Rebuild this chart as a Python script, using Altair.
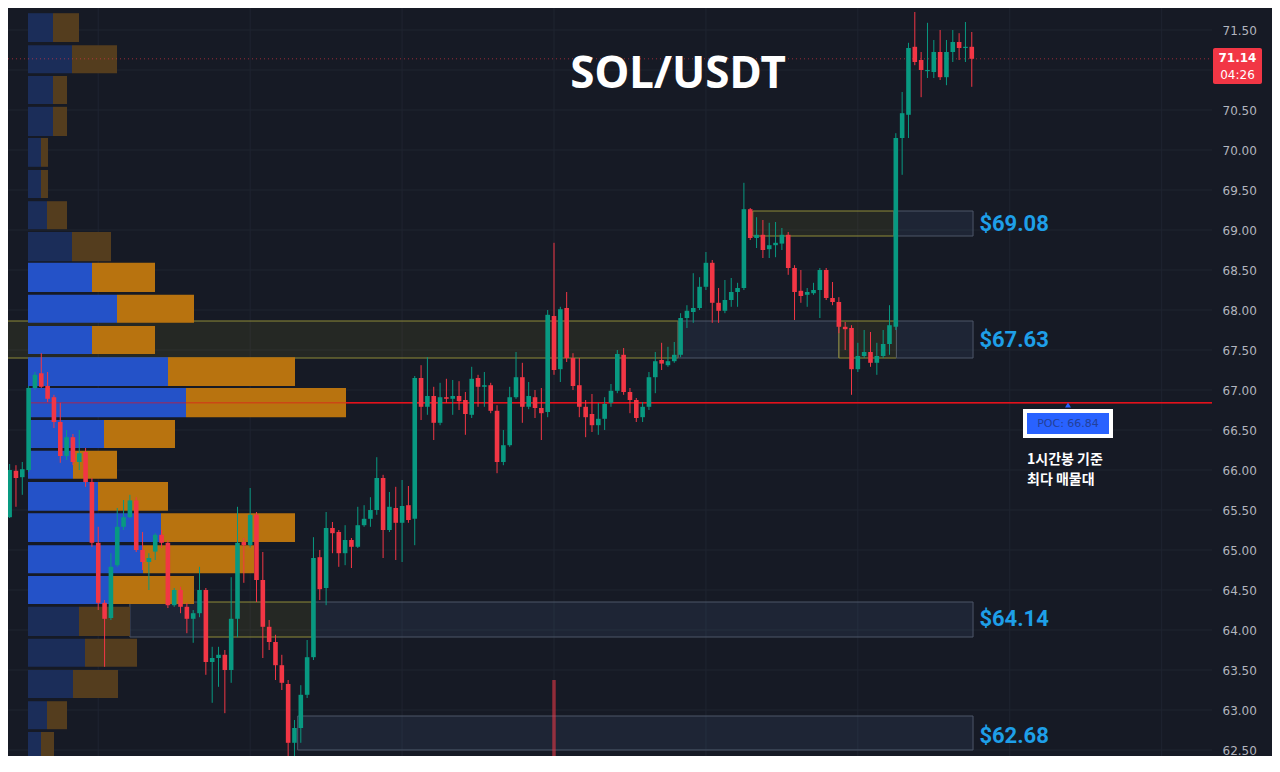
import altair as alt
import pandas as pd

# ---------------- candle data (1h SOL/USDT) ----------------
OPEN = [66.81, 65.41, 65.99, 65.91, 66.00, 67.025, 67.21, 67.05, 66.91, 66.60,
        66.175, 66.41, 66.10, 66.225, 65.85, 65.09, 64.34, 64.15, 64.81, 65.29,
        65.41, 65.62, 65.00, 64.85, 64.98, 65.19, 65.09, 64.31, 64.50, 64.29,
        64.14, 64.21, 64.50, 63.60, 63.65, 63.69, 63.50, 64.14, 65.10, 65.06,
        65.44, 64.625, 64.04, 63.85, 63.56, 63.325, 62.59, 62.775, 63.19, 63.66,
        64.91, 64.525, 65.275, 65.225, 64.96, 65.125, 65.04, 65.31, 65.39, 65.50,
        65.90, 65.25, 65.525, 65.34, 65.56, 65.39, 67.15, 66.79, 66.925, 66.59,
        66.91, 66.89, 66.925, 66.875, 66.69, 67.15, 67.04, 67.06, 66.74, 66.10,
        66.31, 66.91, 67.16, 66.79, 66.91, 66.775, 66.725, 67.925, 67.26, 68.025,
        67.40, 67.06, 66.79, 66.70, 66.56, 66.64, 66.84, 66.99, 67.44, 66.975,
        66.875, 66.66, 66.79, 67.16, 67.375, 67.31, 67.36, 67.44, 67.90, 67.975,
        68.025, 68.29, 68.59, 68.09, 67.99, 68.125, 68.225, 68.275, 69.26, 68.90,
        68.94, 68.76, 68.81, 68.83, 68.94, 68.525, 68.24, 68.19, 68.21, 68.25,
        68.50, 68.15, 68.10, 67.79, 67.775, 67.26, 67.425, 67.475, 67.34, 67.425,
        67.575, 67.79, 70.15, 70.44, 71.29, 71.125, 70.985, 70.975, 71.225, 70.91,
        71.225, 71.35, 71.275, 71.29]
HIGH = [66.875, 66.075, 66.06, 66.10, 67.05, 67.225, 67.46, 67.225, 66.94, 66.84,
        66.50, 66.45, 66.50, 66.275, 65.90, 65.29, 64.375, 64.96, 65.525, 65.625,
        65.69, 65.66, 65.225, 64.96, 65.21, 65.25, 65.125, 64.525, 64.54, 64.34,
        64.25, 64.79, 64.525, 63.79, 63.79, 63.75, 64.66, 65.54, 65.15, 65.775,
        65.475, 64.975, 64.125, 63.94, 63.69, 63.375, 62.875, 63.31, 63.875, 65.16,
        65.00, 65.475, 65.35, 65.25, 65.31, 65.15, 65.54, 65.56, 65.66, 66.16,
        65.94, 65.725, 65.79, 65.875, 65.80, 67.175, 67.31, 67.41, 67.04, 67.09,
        67.14, 67.125, 67.11, 66.975, 67.29, 67.19, 67.225, 67.09, 66.81, 66.50,
        67.04, 67.475, 67.34, 67.10, 67.00, 67.025, 68.00, 68.84, 68.04, 68.225,
        67.46, 67.40, 66.875, 66.95, 66.84, 66.91, 67.075, 67.50, 67.525, 67.025,
        66.90, 66.85, 67.225, 67.475, 67.59, 67.54, 67.60, 67.96, 68.06, 68.46,
        68.41, 68.725, 68.625, 68.275, 68.375, 68.40, 68.34, 69.59, 69.275, 69.16,
        69.125, 69.09, 69.10, 69.025, 68.975, 68.56, 68.50, 68.275, 68.34, 68.525,
        68.525, 68.35, 68.16, 67.85, 67.81, 67.59, 67.75, 67.725, 67.59, 67.75,
        68.06, 70.21, 70.725, 71.34, 71.725, 71.225, 71.59, 71.375, 71.50, 71.375,
        71.50, 71.46, 71.60, 71.475]
LOW = [65.31, 65.40, 65.54, 65.69, 65.975, 67.00, 67.025, 66.85, 66.525, 66.09,
       66.125, 66.06, 66.00, 65.79, 65.04, 64.25, 63.54, 64.125, 64.79, 65.25,
       65.40, 64.975, 64.75, 64.50, 64.875, 65.025, 64.275, 64.29, 64.21, 63.96,
       63.84, 64.16, 63.44, 63.09, 63.29, 62.96, 63.34, 63.91, 64.59, 65.03,
       64.35, 63.65, 63.75, 63.375, 63.25, 62.375, 62.40, 62.59, 63.15, 63.625,
       64.375, 64.31, 64.96, 64.79, 64.81, 64.775, 65.025, 65.29, 65.29, 65.44,
       64.90, 65.225, 64.875, 64.85, 65.34, 65.06, 66.625, 66.69, 66.375, 66.56,
       66.84, 66.69, 66.75, 66.44, 66.65, 66.79, 66.79, 66.71, 65.96, 66.06,
       66.29, 66.89, 66.59, 66.76, 66.65, 66.375, 66.66, 67.19, 67.10, 67.35,
       67.00, 66.66, 66.41, 66.475, 66.44, 66.50, 66.79, 66.96, 66.94, 66.71,
       66.60, 66.60, 66.75, 66.96, 67.25, 67.29, 67.34, 67.41, 67.775, 67.84,
       68.00, 68.25, 67.84, 67.84, 67.96, 68.04, 68.04, 68.25, 68.875, 68.775,
       68.65, 68.65, 68.66, 68.75, 68.44, 67.875, 68.09, 68.04, 68.19, 67.90,
       68.125, 68.06, 67.71, 67.50, 66.94, 67.225, 67.40, 67.29, 67.19, 67.40,
       67.44, 67.75, 69.69, 70.15, 71.06, 70.66, 70.90, 70.90, 70.875, 70.81,
       71.10, 71.125, 71.10, 70.79]
CLOSE = [65.41, 66.00, 65.90, 66.01, 67.025, 67.19, 67.04, 66.89, 66.60, 66.175,
         66.41, 66.10, 66.21, 65.85, 65.09, 64.34, 64.14, 64.79, 65.29, 65.41,
         65.62, 65.00, 64.85, 64.90, 65.19, 65.09, 64.31, 64.50, 64.29, 64.14,
         64.21, 64.50, 63.60, 63.65, 63.69, 63.50, 64.14, 65.09, 65.06, 65.44,
         64.625, 64.04, 63.85, 63.56, 63.34, 62.59, 62.775, 63.19, 63.66, 64.90,
         64.51, 65.275, 65.21, 64.96, 65.125, 65.04, 65.31, 65.39, 65.50, 65.90,
         65.25, 65.54, 65.34, 65.55, 65.375, 67.15, 66.79, 66.925, 66.59, 66.91,
         66.89, 66.925, 66.86, 66.70, 67.14, 67.04, 67.06, 66.74, 66.10, 66.31,
         66.91, 67.16, 66.79, 66.925, 66.775, 66.71, 67.94, 67.25, 68.01, 67.40,
         67.05, 66.79, 66.66, 66.56, 66.64, 66.825, 66.99, 67.45, 66.975, 66.875,
         66.65, 66.79, 67.16, 67.36, 67.33, 67.36, 67.44, 67.90, 67.99, 68.025,
         68.29, 68.59, 68.09, 67.99, 68.125, 68.225, 68.275, 69.26, 68.90, 68.94,
         68.75, 68.81, 68.84, 68.94, 68.525, 68.225, 68.175, 68.225, 68.25, 68.50,
         68.15, 68.10, 67.79, 67.76, 67.26, 67.425, 67.475, 67.34, 67.425, 67.575,
         67.81, 70.15, 70.46, 71.275, 71.10, 71.00, 71.00, 71.225, 70.91, 71.225,
         71.35, 71.275, 71.29, 71.14]

# visible volume bars (bottom pane, mostly scrolled out of view)
VOL_T = [66, 88, 142]
VOL = [580, 1000, 590]

# ---------------- volume profile (visible range) ----------------
PROF_TOP = [71.71, 71.31, 70.925, 70.54, 70.15, 69.75, 69.36, 68.975, 68.59, 68.19, 67.80, 67.41,
            67.025, 66.625, 66.24, 65.85, 65.46, 65.06, 64.675, 64.29, 63.89, 63.50, 63.11, 62.725]
PROF_BOT = [71.35, 70.96, 70.575, 70.175, 69.79, 69.40, 69.01, 68.61, 68.225, 67.84, 67.45, 67.05,
            66.66, 66.275, 65.89, 65.49, 65.10, 64.71, 64.325, 63.925, 63.54, 63.15, 62.76, 62.36]
UP_VOL = [25, 44, 25, 25, 13, 13, 19, 44, 64, 89, 64, 140, 158, 76, 45, 70, 133, 115, 85, 51, 57, 45, 19, 13]
DOWN_VOL = [26, 45, 14, 14, 7, 7, 20, 39, 63, 77, 63, 127, 160, 71, 44, 70, 134, 111, 81, 51, 52, 45, 20, 13]
IN_VALUE_AREA = [False] * 8 + [True] * 11 + [False] * 5
POC = 66.84
LAST = 71.14

# ---------------- zones ----------------
ZONE_START = [119.4, 141.7, 0.0, 107.6, 133.0, 142.1, 21.0, 33.2, 49.8, 47.5]
ZONE_END = [141.7, 154.2, 107.6, 133.0, 142.1, 154.2, 33.2, 49.8, 154.2, 154.2]
ZONE_LOW = [68.925, 68.925, 67.40, 67.40, 67.40, 67.40, 63.9125, 63.9125, 63.9125, 62.50]
ZONE_HIGH = [69.2375, 69.2375, 67.8625, 67.8625, 67.8625, 67.8625, 64.35, 64.35, 64.35, 62.925]
ZONE_KIND = ["olive", "blue", "olive", "blue", "olive", "blue", "blue", "olive", "blue", "blue"]
LEVELS = [69.08, 67.63, 64.14, 62.68]
LEVEL_TEXT = ["$69.08", "$67.63", "$64.14", "$62.68"]

GRID_PRICES = [62.5, 63.0, 63.5, 64.0, 64.5, 65.0, 65.5, 66.0, 66.5, 67.0, 67.5, 68.0,
               68.5, 69.0, 69.5, 70.0, 70.5, 71.0, 71.5]
AXIS_LABELS = [62.5, 63.0, 63.5, 64.0, 64.5, 65.0, 65.5, 66.0, 66.5, 67.0, 67.5, 68.0,
               68.5, 69.0, 69.5, 70.0, 70.5, 71.5]
DAY_LINES = [16, 40, 64, 88, 112, 136, 160, 184]

# ---------------- layout ----------------
W, H = 1204, 748
BG = "#161a25"
UP, DOWN = "#089981", "#f23645"
XS = alt.Scale(domain=[1.7425, 191.95], nice=False, zero=False, padding=0)
YS = alt.Scale(domain=[62.425, 71.775], nice=False, zero=False, padding=0)
PX = alt.Scale(domain=[0, 1000], range=[20, 1020], nice=False, zero=False, padding=0)


def X(f):
    return alt.X(f, type="quantitative", scale=XS, axis=None)


def Y(f):
    return alt.Y(f, type="quantitative", scale=YS, axis=None)


candles = pd.DataFrame({"t": list(range(1, len(OPEN) + 1)), "open": OPEN, "high": HIGH,
                        "low": LOW, "close": CLOSE})
candles["dir"] = ["up" if c >= o else "down" for o, c in zip(OPEN, CLOSE)]
dir_color = alt.Color("dir:N", scale=alt.Scale(domain=["up", "down"], range=[UP, DOWN]), legend=None)

# grid + right price axis
hgrid = alt.Chart(pd.DataFrame({"p": GRID_PRICES})).mark_rule(color="#1f2431", strokeWidth=1).encode(
    y=alt.Y("p:Q", scale=YS, axis=alt.Axis(orient="right", values=AXIS_LABELS, format=".2f",
                                            labelColor="#b2b5be", labelFont="DejaVu Sans",
                                            labelFontSize=12, labelPadding=10, ticks=False,
                                            domain=False, grid=False, title=None)),
    x=alt.value(0), x2=alt.value(W))
vgrid = alt.Chart(pd.DataFrame({"t": DAY_LINES})).mark_rule(color="#1f2431", strokeWidth=1, clip=True).encode(
    x=X("t"), y=alt.value(0), y2=alt.value(H))

zones = pd.DataFrame({"s": ZONE_START, "e": ZONE_END, "lo": ZONE_LOW, "hi": ZONE_HIGH, "kind": ZONE_KIND})
zone_fill = alt.Chart(zones).mark_rect(clip=True, strokeWidth=1).encode(
    x=X("s"), x2="e", y=Y("lo"), y2="hi",
    fill=alt.Fill("kind:N", scale=alt.Scale(domain=["olive", "blue"], range=["#a59a20", "#5d7bb0"]), legend=None),
    fillOpacity=alt.FillOpacity("kind:N", scale=alt.Scale(domain=["olive", "blue"], range=[0.11, 0.12]), legend=None),
    stroke=alt.Stroke("kind:N", scale=alt.Scale(domain=["olive", "blue"], range=["#8f8b38", "#4d5669"]), legend=None),
)

# volume profile
rows = []
for top, bot, u, d, va in zip(PROF_TOP, PROF_BOT, UP_VOL, DOWN_VOL, IN_VALUE_AREA):
    rows.append({"top": top, "bot": bot, "a": 0, "b": u, "seg": "up_va" if va else "up_out"})
    rows.append({"top": top, "bot": bot, "a": u, "b": u + d, "seg": "dn_va" if va else "dn_out"})
profile = pd.DataFrame(rows)
prof = alt.Chart(profile).mark_rect().encode(
    x=alt.X("a:Q", scale=PX, axis=None), x2="b:Q",
    y=Y("top"), y2="bot",
    color=alt.Color("seg:N", scale=alt.Scale(domain=["up_va", "dn_va", "up_out", "dn_out"],
                                             range=["#2452c8", "#b8730f", "#1b2d59", "#543d1e"]), legend=None))

poc_df = pd.DataFrame({"p": [POC], "a": [0]})
poc_under = alt.Chart(poc_df).mark_rule(color="#e3121c", strokeWidth=1.5).encode(
    x=alt.X("a:Q", scale=PX, axis=None), x2=alt.value(W), y=Y("p"))
poc_over = alt.Chart(poc_df).mark_rule(color="#e3121c", strokeWidth=1.5, opacity=0.45).encode(
    x=alt.X("a:Q", scale=PX, axis=None), x2=alt.value(W), y=Y("p"))

last_line = alt.Chart(pd.DataFrame({"p": [LAST]})).mark_rule(
    color=DOWN, strokeWidth=1, strokeDash=[1, 3], opacity=0.6).encode(
    x=alt.value(0), x2=alt.value(W), y=Y("p"))

vol_df = pd.DataFrame({"t": VOL_T, "v": VOL,
                       "dir": [candles.loc[candles.t == t, "dir"].iloc[0] for t in VOL_T]})
vol = alt.Chart(vol_df).mark_bar(size=3.5, opacity=0.55, clip=True).encode(
    x=X("t"), y=alt.Y("v:Q", scale=alt.Scale(domain=[0, 1000], range=[881.5, 672]), axis=None),
    color=dir_color)

wicks = alt.Chart(candles).mark_rule(strokeWidth=1, clip=True).encode(
    x=X("t"), y=Y("low"), y2="high", color=dir_color)
bodies = alt.Chart(candles).mark_bar(size=4.6, clip=True).encode(
    x=X("t"), y=Y("open"), y2="close", color=dir_color)

level_df = pd.DataFrame({"p": LEVELS, "txt": LEVEL_TEXT, "t": [155.2] * 4})
level_text = alt.Chart(level_df).mark_text(align="left", baseline="middle", font="Roboto",
                                           fontWeight="bold", fontSize=22, color="#1e9fe8").encode(
    x=X("t"), y=Y("p"), text="txt:N")

one = pd.DataFrame({"k": [0]})
title = alt.Chart(one).mark_text(text="SOL/USDT", font="Noto Sans", fontWeight="bold", fontSize=44,
                                 color="#ffffff", align="center", baseline="middle").encode(
    x=alt.value(670), y=alt.value(67))

poc_outer = alt.Chart(one).mark_rect(color="#ffffff").encode(
    x=alt.value(1015), x2=alt.value(1105), y=alt.value(401), y2=alt.value(430))
poc_inner = alt.Chart(one).mark_rect(color="#2962ff").encode(
    x=alt.value(1019), x2=alt.value(1101), y=alt.value(405), y2=alt.value(426))
poc_tri = alt.Chart(one).mark_point(shape="triangle-up", filled=True, size=35, color="#2962ff", opacity=1).encode(
    x=alt.value(1060), y=alt.value(397))
poc_text = alt.Chart(pd.DataFrame({"txt": [f"POC: {POC:.2f}"]})).mark_text(
    font="DejaVu Sans", fontSize=11, color="#23409a", align="center", baseline="middle").encode(
    x=alt.value(1060), y=alt.value(416), text="txt:N")
note1 = alt.Chart(one).mark_text(text="1시간봉 기준", font="Noto Sans CJK KR", fontWeight="bold", fontSize=14,
                                 color="#ffffff", align="left", baseline="middle").encode(
    x=alt.value(1019), y=alt.value(452))
note2 = alt.Chart(one).mark_text(text="최다 매물대", font="Noto Sans CJK KR", fontWeight="bold", fontSize=14,
                                 color="#ffffff", align="left", baseline="middle").encode(
    x=alt.value(1019), y=alt.value(472))

tag = alt.Chart(one).mark_rect(color=DOWN, cornerRadius=2).encode(
    x=alt.value(1205), x2=alt.value(1254), y=alt.value(40), y2=alt.value(76))
tag_price = alt.Chart(pd.DataFrame({"txt": [f"{LAST:.2f}"]})).mark_text(
    font="DejaVu Sans", fontSize=12, fontWeight="bold", color="#ffffff", align="center", baseline="middle").encode(
    x=alt.value(1229.5), y=alt.value(50), text="txt:N")
tag_time = alt.Chart(one).mark_text(text="04:26", font="DejaVu Sans", fontSize=12, color="#ffffff",
                                    align="center", baseline="middle").encode(
    x=alt.value(1229.5), y=alt.value(67))

chart = alt.layer(
    hgrid, vgrid, zone_fill, poc_under, prof, poc_over, last_line, vol, wicks, bodies,
    level_text, title, poc_outer, poc_inner, poc_tri, poc_text, note1, note2, tag, tag_price, tag_time
).resolve_scale(x="independent", y="independent", color="independent").properties(
    width=W, height=H,
    autosize=alt.AutoSizeParams(type="none"),
    padding={"left": 0, "top": 0, "right": 60, "bottom": 0},
    background=BG,
).configure_view(stroke=None)

chart.save("out.html", embed_options={"renderer": "svg", "actions": False})
